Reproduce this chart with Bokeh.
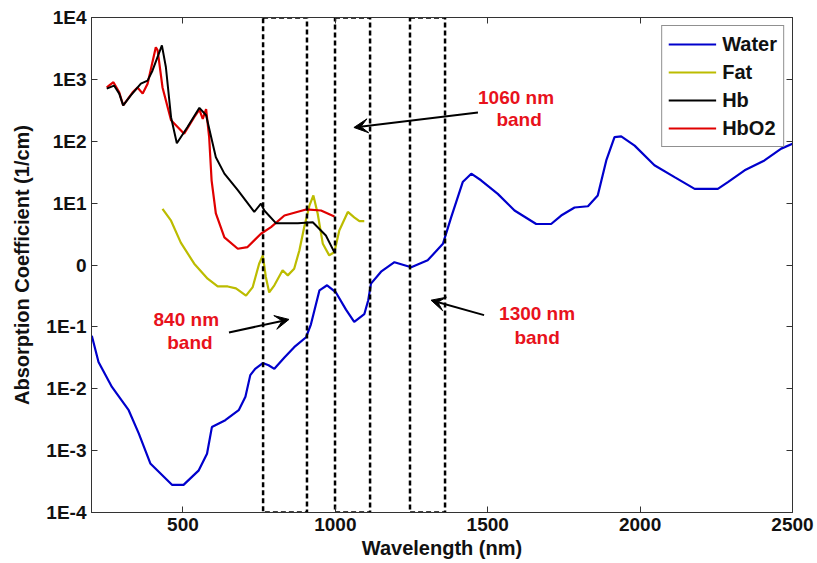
from bokeh.plotting import figure
from bokeh.models import (Range1d, FixedTicker, LinearAxis, LogAxis, Arrow, VeeHead,
                          CustomJSTickFormatter, Legend, LegendItem)
from bokeh.core.properties import value
from bokeh.embed import file_html
from bokeh.resources import INLINE

# ---------------- data ----------------
water_nm = [201, 223, 267, 322, 355, 393, 464, 502, 552, 579, 595, 639, 683, 705, 721, 737,
            762, 781, 800, 833, 865, 904, 920, 948, 973, 1002, 1035, 1062, 1095, 1108, 1117,
            1150, 1194, 1249, 1303, 1353, 1380, 1418, 1446, 1478, 1533, 1588, 1659, 1708,
            1741, 1785, 1829, 1861, 1889, 1916, 1938, 1982, 2047, 2113, 2179, 2255, 2288,
            2343, 2408, 2463, 2500]
water_mua = [0.072, 0.027, 0.0107, 0.0045, 0.0019, 0.00062, 0.00028, 0.00028, 0.00048,
             0.00089, 0.0024, 0.0031, 0.0045, 0.0074, 0.0166, 0.021, 0.026, 0.024, 0.021,
             0.032, 0.047, 0.068, 0.11, 0.39, 0.47, 0.36, 0.19, 0.12, 0.16, 0.27, 0.50,
             0.78, 1.11, 0.92, 1.19, 2.2, 5.9, 21.9, 29.9, 23.4, 14.1, 7.6, 4.6, 4.6,
             6.3, 8.5, 8.9, 13.3, 49, 117, 120, 85, 41, 26.3, 17, 17, 21.9,
             33.9, 49, 76, 91]

fat_nm = [433, 461, 493, 537, 581, 614, 647, 674, 707, 729, 750, 762, 772, 783, 800, 827,
          844, 865, 882, 898, 915, 928, 942, 959, 980, 997, 1013, 1041, 1062, 1079, 1095]
fat_mua = [8.1, 5.2, 2.3, 1.05, 0.60, 0.45, 0.45, 0.42, 0.32, 0.44, 1.05, 1.43, 0.64, 0.36,
           0.47, 0.82, 0.68, 0.87, 1.72, 4.1, 9.1, 13.3, 6.8, 2.2, 1.43, 1.62, 3.6, 7.2,
           5.9, 5.1, 5.1]

hb_nm = [250, 274, 291, 304, 329, 362, 384, 400, 431, 444, 461, 480, 515, 554, 576, 608,
         636, 680, 734, 756, 767, 805, 877, 926, 969, 997]
hb_mua = [708, 794, 589, 380, 550, 851, 955, 1380, 3548, 1585, 245, 93, 170, 347, 263, 55,
          30, 16.2, 7.2, 9.8, 7.6, 4.75, 4.75, 4.9, 3.0, 1.6]

hbo2_nm = [250, 272, 291, 304, 335, 351, 368, 384, 411, 417, 433, 461, 504, 537, 554, 565,
           576, 586, 594, 608, 636, 680, 712, 756, 789, 833, 904, 953, 997]
hbo2_mua = [741, 900, 617, 380, 617, 741, 589, 851, 3311, 2951, 741, 219, 132, 245, 324, 229,
            331, 117, 23.4, 6.8, 2.8, 1.83, 1.95, 3.2, 4.1, 6.3, 7.9, 7.6, 6.1]

band_left = [763, 999, 1245]
band_right = [907, 1114, 1360]

ann_text = ["840 nm", "band", "1060 nm", "band", "1300 nm", "band"]
ann_x = [511, 523, 1593, 1603, 1662, 1662]
ann_y = [0.132, 0.056, 513, 224, 0.166, 0.068]

arrow_x_start = [651, 1468, 1488]
arrow_y_start = [0.081, 292, 0.155]
arrow_x_end = [848, 1061, 1314]
arrow_y_end = [0.132, 167, 0.27]

x_ticks = [500, 1000, 1500, 2000, 2500]
y_tick_values = [1e-4, 1e-3, 1e-2, 1e-1, 1, 10, 100, 1000, 10000]
y_tick_labels = ["1E-4", "1E-3", "1E-2", "1E-1", "0", "1E1", "1E2", "1E3", "1E4"]

# ---------------- figure ----------------
FONT = "Liberation Sans"
p = figure(width=817, height=563, y_axis_type="log", output_backend="svg",
           toolbar_location=None, x_range=Range1d(200, 2500), y_range=Range1d(1e-4, 1e4),
           min_border_left=91, min_border_right=25, min_border_top=17, min_border_bottom=51)
p.background_fill_color = "white"
p.border_fill_color = "white"
p.outline_line_color = "#333333"
p.outline_line_width = 1
p.grid.visible = False

fmt = CustomJSTickFormatter(args=dict(vals=y_tick_values, labs=y_tick_labels), code="""
const i = vals.findIndex(v => Math.abs(Math.log10(v) - Math.log10(tick)) < 1e-6);
return i >= 0 ? labs[i] : "";
""")

for ax in p.xaxis:
    ax.ticker = FixedTicker(ticks=x_ticks)
    ax.axis_label = "Wavelength (nm)"
    ax.axis_label_standoff = 3
for ax in p.yaxis:
    ax.ticker = FixedTicker(ticks=y_tick_values)
    ax.formatter = fmt
    ax.axis_label = "Absorption Coefficient (1/cm)"
    ax.axis_label_standoff = 10

for ax in list(p.xaxis) + list(p.yaxis):
    ax.major_tick_in = 6
    ax.major_tick_out = 0
    ax.minor_tick_line_color = None
    ax.axis_line_color = "#333333"
    ax.major_tick_line_color = "#333333"
    ax.major_label_text_font = FONT
    ax.major_label_text_font_style = "bold"
    ax.major_label_text_font_size = "19px"
    ax.major_label_text_color = "#111111"
    ax.axis_label_text_font = FONT
    ax.axis_label_text_font_style = "bold"
    ax.axis_label_text_font_size = "20px"
    ax.axis_label_text_color = "#111111"
    ax.major_label_standoff = 5

blank = CustomJSTickFormatter(code="return ' ';")
top_ax = LinearAxis(ticker=FixedTicker(ticks=x_ticks), formatter=blank,
                    major_label_text_font_size="4px",
                    major_tick_in=6, major_tick_out=0, minor_tick_line_color=None,
                    axis_line_color="#333333", major_tick_line_color="#333333",
                    major_label_standoff=0)
right_ax = LogAxis(ticker=FixedTicker(ticks=y_tick_values), formatter=blank,
                   major_label_text_font_size="4px",
                   major_tick_in=6, major_tick_out=0, minor_tick_line_color=None,
                   axis_line_color="#333333", major_tick_line_color="#333333",
                   major_label_standoff=0)
p.add_layout(top_ax, "above")
p.add_layout(right_ax, "right")

# curves
r_water = p.line(water_nm, water_mua, line_color="#0000cc", line_width=2.2)
r_fat = p.line(fat_nm, fat_mua, line_color="#bcbc00", line_width=2.2)
r_hbo2 = p.line(hbo2_nm, hbo2_mua, line_color="#e00000", line_width=2.2)
r_hb = p.line(hb_nm, hb_mua, line_color="black", line_width=2)

# dashed bands
p.quad(left=band_left, right=band_right, bottom=[1e-4] * 3, top=[1e4] * 3,
       fill_color=None, line_color="black", line_width=2.5, line_dash="5 3")

# annotations
p.text(x=ann_x, y=ann_y, text=ann_text, text_align="center", text_baseline="middle",
       text_font=value(FONT), text_font_style="bold", text_font_size="19px",
       text_color="#e8121c")

for xs, ys, xe, ye in zip(arrow_x_start, arrow_y_start, arrow_x_end, arrow_y_end):
    p.add_layout(Arrow(x_start=xs, y_start=ys, x_end=xe, y_end=ye, line_width=2,
                       line_color="black",
                       end=VeeHead(size=14, fill_color="black", line_color="black")))

legend = Legend(items=[LegendItem(label="Water", renderers=[r_water]),
                       LegendItem(label="Fat", renderers=[r_fat]),
                       LegendItem(label="Hb", renderers=[r_hb]),
                       LegendItem(label="HbO2", renderers=[r_hbo2])],
                location="top_right")
legend.margin = 8
legend.padding = 6
legend.spacing = 4
legend.glyph_width = 48
legend.glyph_height = 24
legend.label_height = 24
legend.label_standoff = 6
legend.label_text_font = FONT
legend.label_text_font_style = "bold"
legend.label_text_font_size = "20px"
legend.label_text_color = "#111111"
legend.border_line_color = "#222222"
legend.border_line_width = 1.5
legend.background_fill_color = "white"
legend.background_fill_alpha = 1
p.add_layout(legend)

open("out.html", "w").write(file_html(p, INLINE))
